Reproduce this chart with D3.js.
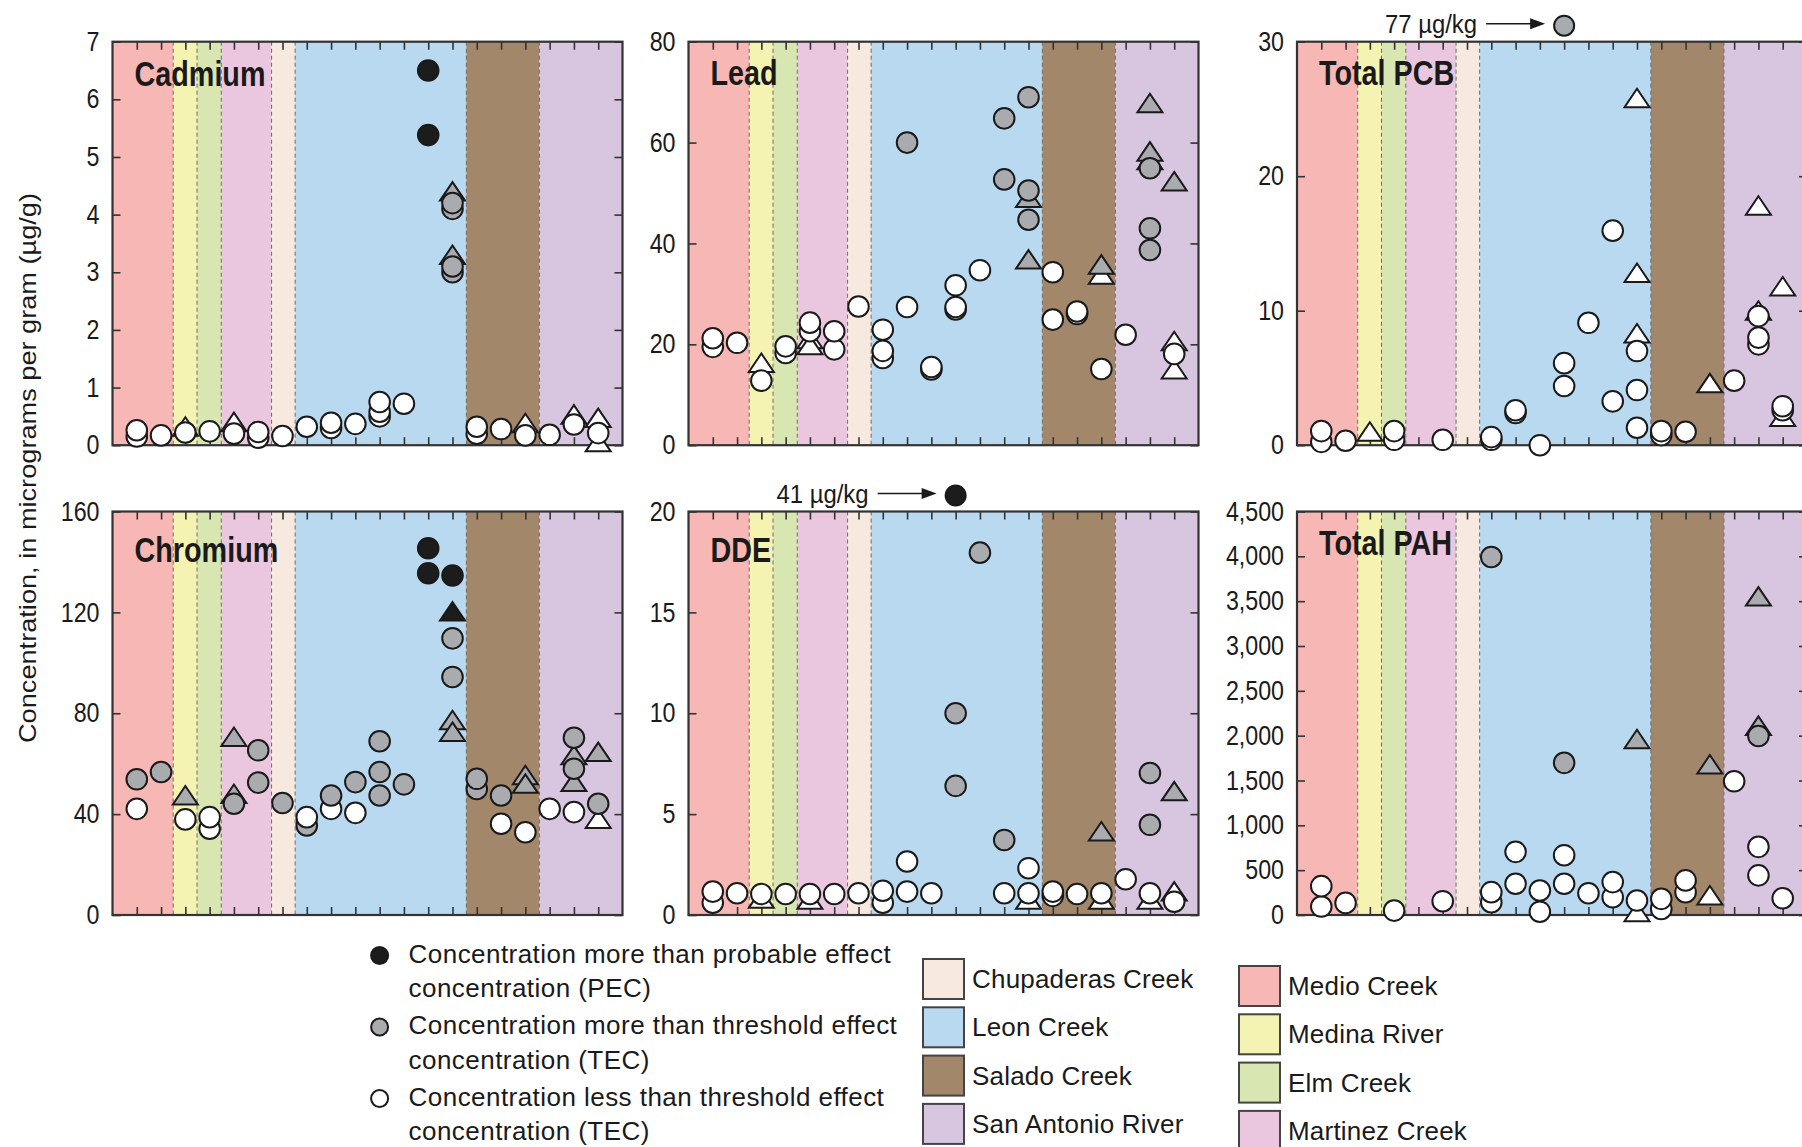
<!DOCTYPE html>
<html><head><meta charset="utf-8">
<script src="https://cdn.jsdelivr.net/npm/d3@7"></script>
<style>body{margin:0;background:#fff} svg{display:block}</style>
</head><body>
<svg id="c" width="1802" height="1147"></svg>
<script>
// ---------------- DATA ----------------
const sites = d3.range(1, 21);
const regions = ["Medio Creek","Medina River","Elm Creek","Martinez Creek","Chupaderas Creek","Leon Creek","Salado Creek","San Antonio River"];
const regionBounds = [0, 2.5, 3.48, 4.48, 6.55, 7.52, 14.57, 17.58, 21];
const regionColors = ["#f6b7b5","#f5f3b1","#d8e7b2","#ebc7df","#f8e9e0","#b9d9f1","#a2876b","#d8c6e1"];
const panels = ["Cadmium","Lead","Total PCB","Chromium","DDE","Total PAH"];
const yMax = [7, 80, 30, 160, 20, 4500];
const yStep = [1, 20, 10, 40, 5, 500];
// [site, value, code]  code: c=circle t=triangle ; L=< TEC (white), T=> TEC (gray), P=> PEC (black)
const cadmium = [[1,0.26,"cL"],[1,0.15,"cL"],[2,0.17,"cL"],[3,0.32,"tL"],[3,0.22,"cL"],[4,0.24,"cL"],
  [5,0.4,"tL"],[5,0.2,"cL"],[6,0.23,"cL"],[6,0.13,"cL"],[7,0.16,"cL"],[8,0.32,"cL"],[9,0.3,"cL"],[9,0.39,"cL"],
  [10,0.37,"cL"],[11,0.5,"cL"],[11,0.58,"cL"],[11,0.75,"cL"],[12,0.72,"cL"],[13,6.5,"cP"],[13,5.38,"cP"],
  [14,4.4,"tT"],[14,3.3,"tT"],[14,4.2,"cT"],[14,4.1,"cT"],[14,3.0,"cT"],[14,3.1,"cT"],[15,0.2,"cL"],[15,0.32,"cL"],
  [16,0.28,"cL"],[17,0.38,"tL"],[17,0.17,"cL"],[18,0.18,"cL"],[19,0.53,"tL"],[19,0.36,"cL"],
  [20,0.47,"tL"],[20,0.05,"tL"],[20,0.21,"cL"]];
const lead = [[1,21.2,"cL"],[1,19.5,"cL"],[2,20.3,"cL"],[3,16.3,"tL"],[3,12.8,"cL"],[4,19.6,"cL"],[4,18.3,"cL"],
  [5,21,"tL"],[5,19.8,"tL"],[5,24.3,"cL"],[5,22.6,"cL"],[6,22.6,"cL"],[6,19,"cL"],[7,27.5,"cL"],
  [8,22.9,"cL"],[8,18.7,"cL"],[8,17.3,"cL"],[9,60,"cT"],[9,27.4,"cL"],[10,15.5,"cL"],[10,15,"cL"],
  [11,31.7,"cL"],[11,27.4,"cL"],[11,26.9,"cL"],[12,34.7,"cL"],[13,64.8,"cT"],[13,52.7,"cT"],
  [14,49,"tT"],[14,36.8,"tT"],[14,69,"cT"],[14,50.5,"cT"],[14,44.7,"cT"],[15,34.3,"cL"],[15,24.9,"cL"],
  [16,26.5,"cL"],[16,26,"cL"],[17,33.8,"tL"],[17,35.8,"tT"],[17,15.1,"cL"],[18,21.9,"cL"],
  [19,67.8,"tT"],[19,56.5,"tT"],[19,58.2,"tT"],[19,54.9,"cT"],[19,43,"cT"],[19,38.7,"cT"],
  [20,52.3,"tT"],[20,20.6,"tL"],[20,15,"tL"],[20,18.1,"cL"]];
const pcb = [[1,1.05,"cL"],[1,0.25,"cL"],[2,0.33,"cL"],[3,1.0,"tL"],[4,1.05,"cL"],[4,0.4,"cL"],[6,0.4,"cL"],
  [8,0.6,"cL"],[8,0.4,"cL"],[9,2.6,"cL"],[9,2.4,"cL"],[10,0,"cL"],[11,6.1,"cL"],[11,4.4,"cL"],[12,9.1,"cL"],
  [13,15.95,"cL"],[13,3.26,"cL"],[14,25.8,"tL"],[14,12.8,"tL"],[14,8.3,"tL"],[14,7.0,"cL"],[14,4.1,"cL"],[14,1.3,"cL"],
  [15,1.05,"cL"],[15,0.75,"cL"],[16,1.0,"cL"],[17,4.6,"tL"],[18,4.8,"cL"],
  [19,17.8,"tL"],[19,10,"tL"],[19,9.6,"cL"],[19,8.0,"cL"],[19,7.5,"cL"],[20,11.8,"tL"],[20,2.1,"tL"],[20,2.9,"cL"],[20,2.6,"cL"]];
const chromium = [[1,53.8,"cT"],[1,42.1,"cL"],[2,56.7,"cT"],[3,47.4,"tT"],[3,37.9,"cL"],[4,38.8,"cL"],[4,34.2,"cL"],
  [5,70.6,"tT"],[5,48,"tT"],[5,44.1,"cT"],[6,65.3,"cT"],[6,52.5,"cT"],[7,44.4,"cT"],[8,38.8,"cL"],[8,35.5,"cT"],
  [9,47.4,"cT"],[9,42.1,"cL"],[10,52.7,"cT"],[10,40.5,"cL"],[11,68.9,"cT"],[11,56.7,"cT"],[11,47.4,"cT"],[12,51.8,"cT"],
  [13,145.4,"cP"],[13,135.5,"cP"],[14,120.3,"tP"],[14,77.2,"tT"],[14,72.6,"tT"],[14,134.6,"cP"],[14,109.7,"cT"],[14,94.4,"cT"],
  [15,54,"cT"],[15,50,"cT"],[16,47.4,"cT"],[16,36.2,"cL"],[17,55.4,"tT"],[17,52,"tT"],[17,32.8,"cL"],[18,42.1,"cL"],
  [19,63.3,"tT"],[19,52.7,"tT"],[19,70.3,"cT"],[19,58,"cT"],[19,40.8,"cL"],[20,64.6,"tT"],[20,38.1,"tL"],[20,44.1,"cT"]];
const dde = [[1,1.16,"cL"],[1,0.61,"cL"],[2,1.08,"cL"],[3,0.8,"tL"],[3,1.04,"cL"],[4,1.04,"cL"],[5,0.75,"tL"],[5,1.04,"cL"],
  [6,1.04,"cL"],[7,1.08,"cL"],[8,1.2,"cL"],[8,0.61,"cL"],[9,2.65,"cL"],[9,1.16,"cL"],[10,1.08,"cL"],
  [11,10,"cT"],[11,6.4,"cT"],[12,17.96,"cT"],[13,3.72,"cT"],[13,1.08,"cL"],[14,0.75,"tL"],[14,2.32,"cL"],[14,1.08,"cL"],
  [15,1.16,"cL"],[15,0.95,"cL"],[16,1.04,"cL"],[17,4.14,"tT"],[17,0.75,"tL"],[17,1.08,"cL"],[18,1.77,"cL"],
  [19,0.75,"tL"],[19,7.04,"cT"],[19,4.47,"cT"],[19,1.08,"cL"],[20,6.13,"tT"],[20,1.16,"tL"],[20,0.66,"cL"]];
const pah = [[1,322,"cL"],[1,94,"cL"],[2,135,"cL"],[4,49,"cL"],[6,154,"cL"],[8,3993,"cT"],[8,255,"cL"],[8,142,"cL"],
  [9,704,"cL"],[9,348,"cL"],[10,273,"cL"],[10,37,"cL"],[11,1697,"cT"],[11,667,"cL"],[11,348,"cL"],[12,243,"cL"],
  [13,367,"cL"],[13,199,"cL"],[14,1960,"tT"],[14,30,"tL"],[14,161,"cL"],[15,180,"cL"],[15,67,"cL"],[16,386,"cL"],[16,255,"cL"],
  [17,1678,"tT"],[17,217,"tL"],[18,1491,"cL"],[19,3551,"tT"],[19,2109,"tT"],[19,1996,"cT"],[19,760,"cL"],[19,442,"cL"],[20,187,"cL"]];
const offScale = [{panel:"Total PCB", site:11, label:"77 \u00b5g/kg", code:"cT"},
                  {panel:"DDE", site:11, label:"41 \u00b5g/kg", code:"cP"}];
const levelLegend = [["Concentration more than probable effect","concentration (PEC)","P"],
                     ["Concentration more than threshold effect","concentration (TEC)","T"],
                     ["Concentration less than threshold effect","concentration (TEC)","L"]];
const regionLegendCols = [["Chupaderas Creek","Leon Creek","Salado Creek","San Antonio River"],
                          ["Medio Creek","Medina River","Elm Creek","Martinez Creek"]];
const yTitle = "Concentration, in micrograms per gram (\u00b5g/g)";

// ---------------- LAYOUT / STYLE ----------------
const datasets = [cadmium, lead, pcb, chromium, dde, pah];
const svg = d3.select("#c");
const W = 510, H = 403.5;
const colX = [112.5, 688.5, 1297];
const rowY = [41.7, 511.5];
const titleDy = [44, 43, 43, 50, 50, 43];
const fills = {L:"#ffffff", T:"#a9abae", P:"#1c1c1c"};
const regular = "'Liberation Sans',Arial,sans-serif";
const triPath = "M0,-9.5L12.5,9L-12.5,9Z";
let titleK = null;

function squeeze(sel, k) {
  sel.each(function () {
    const w = this.getComputedTextLength();
    if (w > 0) d3.select(this).attr("textLength", w * k).attr("lengthAdjust", "spacingAndGlyphs");
  });
}

panels.forEach((name, i) => {
  const x0 = colX[i % 3], y0 = rowY[Math.floor(i / 3)];
  const g = svg.append("g").attr("transform", `translate(${x0},${y0})`);
  const x = d3.scaleLinear().domain([0, 21]).range([0, W]);
  const y = d3.scaleLinear().domain([0, yMax[i]]).range([H, 0]);

  g.selectAll("rect.band").data(regions).join("rect").attr("class","band")
    .attr("x", (d, j) => x(regionBounds[j]))
    .attr("width", (d, j) => x(regionBounds[j + 1]) - x(regionBounds[j]))
    .attr("y", 0).attr("height", H).attr("fill", (d, j) => regionColors[j]);
  g.selectAll("line.bd").data(regionBounds.slice(1, -1)).join("line").attr("class","bd")
    .attr("x1", d => x(d)).attr("x2", d => x(d)).attr("y1", 0).attr("y2", H)
    .attr("stroke", "#6a6a6a").attr("stroke-width", 1).attr("stroke-dasharray", "4,3");

  const ticks = d3.range(0, yMax[i] + 1e-9, yStep[i]);
  const fmt = yMax[i] >= 1000 ? d3.format(",") : d3.format("d");
  const styleAxis = sel => {
    sel.select(".domain").remove();
    sel.selectAll(".tick line").attr("stroke", "#333").attr("stroke-width", 1.6);
    sel.selectAll(".tick text").attr("font-family", regular).attr("font-size", 27).attr("fill", "#1a1a1a");
  };
  const ya = g.append("g").call(d3.axisLeft(y).tickValues(ticks).tickFormat(fmt).tickSizeInner(-8).tickSizeOuter(0).tickPadding(13)).call(styleAxis);
  squeeze(ya.selectAll(".tick text"), 0.86);
  g.append("g").attr("transform", `translate(${W},0)`).call(d3.axisRight(y).tickValues(ticks).tickFormat("").tickSizeInner(-8).tickSizeOuter(0)).call(styleAxis);
  g.append("g").call(d3.axisTop(x).tickValues(sites).tickFormat("").tickSizeInner(-8).tickSizeOuter(0)).call(styleAxis);
  g.append("g").attr("transform", `translate(0,${H})`).call(d3.axisBottom(x).tickValues(sites).tickFormat("").tickSizeInner(-8).tickSizeOuter(0)).call(styleAxis);

  g.append("rect").attr("width", W).attr("height", H).attr("fill", "none").attr("stroke", "#333").attr("stroke-width", 2.2);

  const t = g.append("text").attr("x", 22).attr("y", titleDy[i]).text(name)
    .attr("font-family", regular).attr("font-weight", "bold").attr("font-size", 35).attr("fill", "#1a1a1a");
  const w = t.node().getComputedTextLength();
  if (titleK === null) titleK = 131 / w;
  t.attr("textLength", w * titleK).attr("lengthAdjust", "spacingAndGlyphs");

  const data = datasets[i];
  const tris = data.filter(d => d[2][0] === "t");
  const circs = data.filter(d => d[2][0] === "c").sort((a, b) => a[1] - b[1]);
  g.selectAll("path.tri").data(tris).join("path").attr("class","tri").attr("d", triPath)
    .attr("transform", d => `translate(${x(d[0])},${y(d[1])})`)
    .attr("fill", d => fills[d[2][1]]).attr("stroke", "#1a1a1a").attr("stroke-width", 2);
  g.selectAll("circle.pt").data(circs).join("circle").attr("class","pt")
    .attr("cx", d => x(d[0])).attr("cy", d => y(d[1])).attr("r", 10.3)
    .attr("fill", d => fills[d[2][1]]).attr("stroke", "#1a1a1a").attr("stroke-width", 2);

  offScale.filter(o => o.panel === name).forEach(o => {
    const cx = x(o.site), cy = -16;
    g.append("circle").attr("cx", cx).attr("cy", cy).attr("r", 10)
      .attr("fill", fills[o.code[1]]).attr("stroke", "#1a1a1a").attr("stroke-width", 2);
    g.append("line").attr("x1", cx - 78).attr("x2", cx - 30).attr("y1", cy - 2).attr("y2", cy - 2)
      .attr("stroke", "#1a1a1a").attr("stroke-width", 1.6);
    g.append("path").attr("d", `M${cx-19},${cy-2}L${cx-34},${cy-7.5}L${cx-34},${cy+3.5}Z`).attr("fill", "#1a1a1a");
    const at = g.append("text").attr("x", cx - 87).attr("y", cy + 7.5).attr("text-anchor", "end").text(o.label)
      .attr("font-family", regular).attr("font-size", 26).attr("fill", "#1a1a1a");
    squeeze(at, 0.92);
  });
});

// y axis title
svg.append("text").attr("transform", "translate(36,468) rotate(-90)").attr("text-anchor", "middle")
  .attr("font-family", regular).attr("font-size", 24).attr("fill", "#1a1a1a")
  .attr("textLength", 550).attr("lengthAdjust", "spacingAndGlyphs").text(yTitle);

// level legend
const lg = svg.append("g").attr("transform", "translate(379.6,955.5)");
levelLegend.forEach((d, k) => {
  const gy = k * 71.5;
  lg.append("circle").attr("cx", 0).attr("cy", gy).attr("r", 8.5)
    .attr("fill", fills[d[2]]).attr("stroke", "#1a1a1a").attr("stroke-width", 2);
  [d[0], d[1]].forEach((line, m) => {
    lg.append("text").attr("x", 29).attr("y", gy + 7 + m * 34.5).text(line)
      .attr("font-family", regular).attr("font-size", 26).attr("letter-spacing", 0.45).attr("fill", "#1a1a1a");
  });
});

// region legend
const colPos = [[923, 959], [1239, 966]];
regionLegendCols.forEach((col, c) => {
  col.forEach((name, k) => {
    const sx = colPos[c][0], sy = colPos[c][1] + k * 48.3;
    svg.append("rect").attr("x", sx).attr("y", sy).attr("width", 41).attr("height", 40)
      .attr("fill", regionColors[regions.indexOf(name)]).attr("stroke", "#444").attr("stroke-width", 2);
    svg.append("text").attr("x", sx + 49).attr("y", sy + 29).text(name)
      .attr("font-family", regular).attr("font-size", 26).attr("letter-spacing", 0.2).attr("fill", "#1a1a1a");
  });
});
</script>
</body></html>
